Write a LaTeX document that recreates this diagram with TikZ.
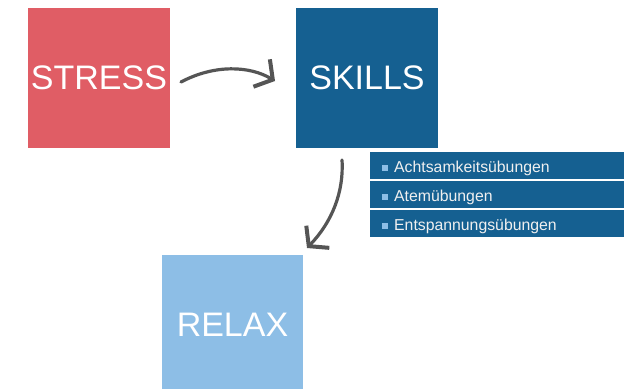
\documentclass[tikz,border=0pt]{standalone}
\usepackage{fontspec}
\setmainfont{Liberation Sans}
\usetikzlibrary{arrows.meta}
\definecolor{stressred}{RGB}{224,93,101}
\definecolor{skillblue}{RGB}{21,96,145}
\definecolor{relaxblue}{RGB}{141,190,230}
\definecolor{arrowgrey}{RGB}{85,85,85}
\tikzstyle{bigbox}=[rectangle,minimum width=142pt,minimum height=140pt,inner sep=0pt,text=white,font=\fontsize{34}{40}\selectfont]
\tikzstyle{item}=[rectangle,fill=skillblue,anchor=west,text width=254pt,minimum height=27pt,text height=18pt,text depth=5pt,inner xsep=0pt,inner ysep=0pt,align=left,text=white!94!black,font=\fontsize{15.8}{18}\selectfont]
\tikzstyle{brush}=[draw=arrowgrey,line width=3.2pt,line cap=round,-{Straight Barb[length=13pt,width=32pt,line width=4pt]}]
\newcommand{\itembullet}{\hspace*{12pt}{\color{relaxblue}\rule[1.5pt]{6pt}{6pt}}\hspace{6pt}}

\begin{document}
\begin{tikzpicture}[x=1pt,y=-1pt]
\useasboundingbox (0,0) rectangle (631,388);
\node[bigbox,fill=stressred] (stress) at (99,78) {STRESS};
\node[bigbox,fill=skillblue] (skills) at (367,78) {SKILLS};
\node[bigbox,fill=relaxblue,minimum width=141pt] (relax) at (232.5,325) {RELAX};
\node[item] (achtsam) at (370,165.5) {\itembullet Achtsamkeitsübungen};
\node[item] (atem) at (370,194.5) {\itembullet Atemübungen};
\node[item] (entsp) at (370,223.5) {\itembullet Entspannungsübungen};
\coordinate (a1s) at (181,82);
\coordinate (a1e) at (275,81);
\coordinate (a2s) at (342,160);
\coordinate (a2e) at (307,248);
\draw[brush] (a1s) .. controls (215,64) and (250,66) .. (a1e);
\draw[brush] (a2s) .. controls (344,192) and (332,222) .. (a2e);
\end{tikzpicture}
\end{document}
